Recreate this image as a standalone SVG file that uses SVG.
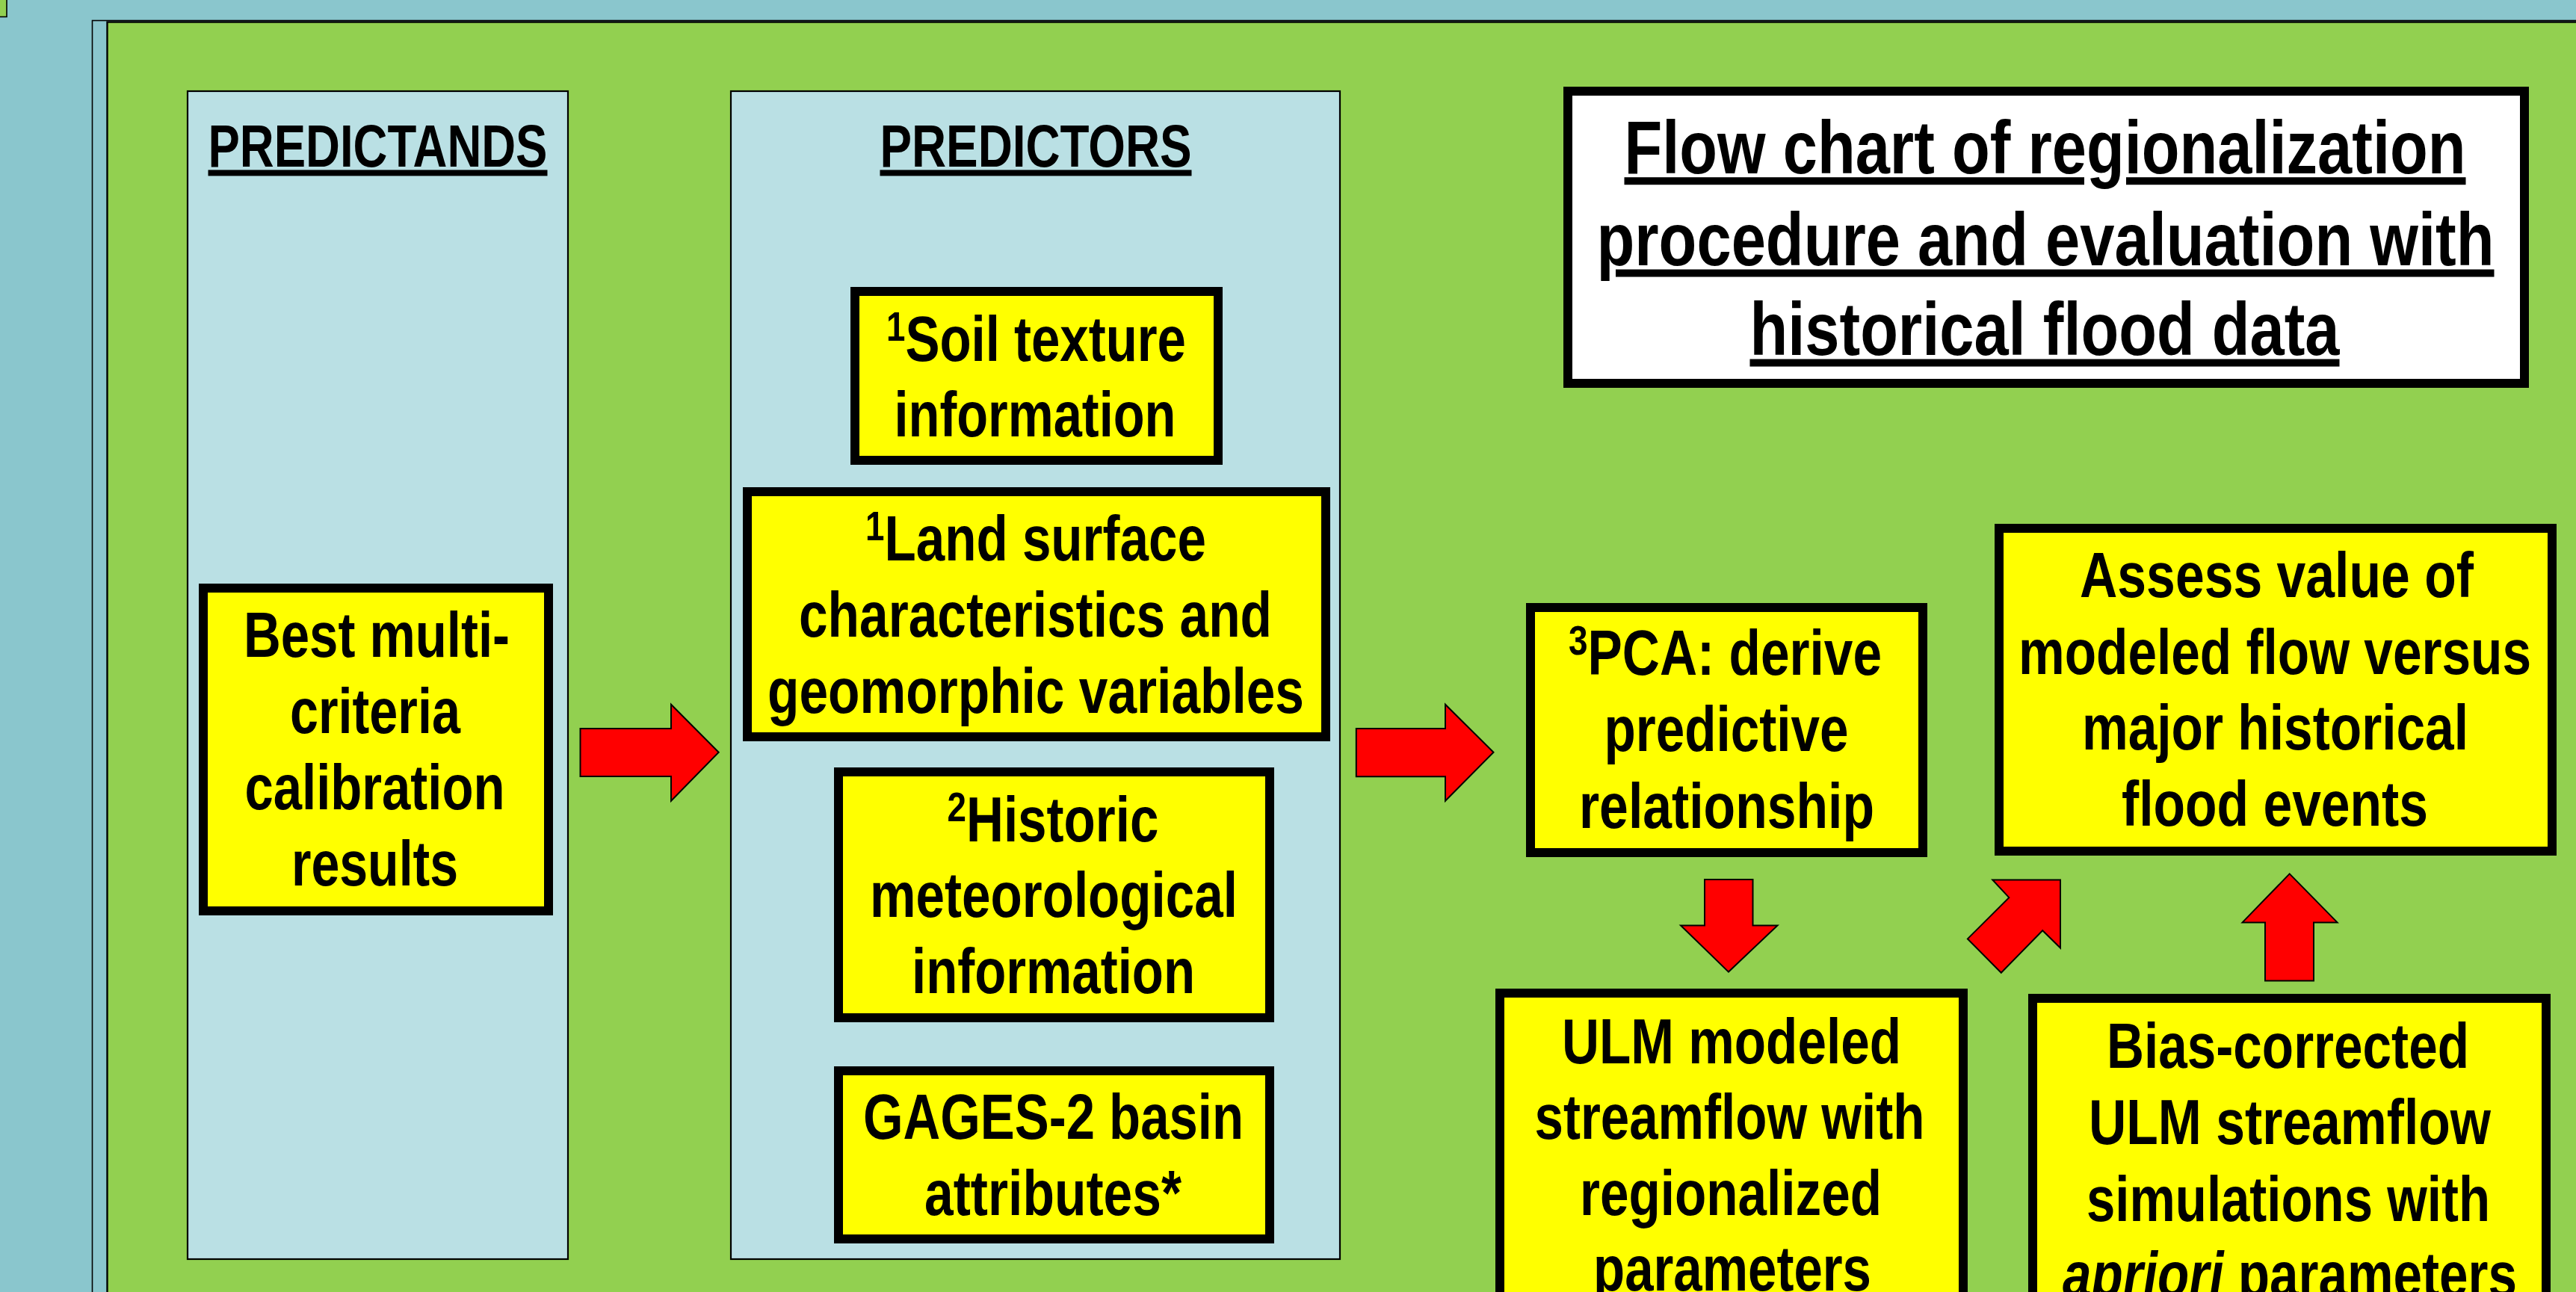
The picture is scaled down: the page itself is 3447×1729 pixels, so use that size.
<svg xmlns="http://www.w3.org/2000/svg" width="3447" height="1729" viewBox="0 0 3447 1729">
<style>
.bg{fill:#8AC6CD}
.frame{fill:#8AC6CD;stroke:#000;stroke-width:1.6}
.green{fill:#92D050;stroke:#000;stroke-width:2.4}
.panel{fill:#BAE0E4;stroke:#000;stroke-width:2.2}
.box{fill:#FFFF00;stroke:#000;stroke-width:12}
.tbox{fill:#FFFFFF;stroke:#000;stroke-width:12}
.arrow{fill:#FF0000;stroke:#000;stroke-width:2}
text{font-family:"Liberation Sans",Arial,sans-serif;font-weight:bold;fill:#000;text-anchor:middle}
.t{font-size:68px}
.h{font-size:64px;text-decoration:underline}
.ttl{font-size:80px;text-decoration:underline}
.sup{font-size:45px}
</style>
<rect class="bg" x="0" y="0" width="3447" height="1729"/>
<rect x="-2" y="-2" width="11" height="24.5" fill="#92D050" stroke="#000" stroke-width="1.6"/>
<rect class="frame" x="123.5" y="27.5" width="3400" height="1800"/>
<rect class="green" x="143.5" y="29.5" width="3400" height="1800"/>

<g id="predictands-panel">
<rect class="panel" x="251" y="122" width="509" height="1563"/>
<text class="h" x="505.5" transform="matrix(1,0,0,1.25,0,223)" textLength="454" lengthAdjust="spacingAndGlyphs">PREDICTANDS</text>
</g>
<g id="predictors-panel">
<rect class="panel" x="978" y="122" width="815" height="1563"/>
<text class="h" x="1386" transform="matrix(1,0,0,1.25,0,223)" textLength="417" lengthAdjust="spacingAndGlyphs">PREDICTORS</text>
</g>

<g id="title">
<rect class="tbox" x="2098" y="122" width="1280" height="391"/>
<text class="ttl" x="2736.5" transform="matrix(1,0,0,1.25,0,231.7)" textLength="1126" lengthAdjust="spacingAndGlyphs">Flow chart of regionalization</text>
<text class="ttl" x="2737" transform="matrix(1,0,0,1.25,0,355)" textLength="1201" lengthAdjust="spacingAndGlyphs">procedure and evaluation with</text>
<text class="ttl" x="2736" transform="matrix(1,0,0,1.25,0,475)" textLength="789" lengthAdjust="spacingAndGlyphs">historical flood data</text>
</g>

<g id="best-calibration">
<rect class="box" x="272" y="787" width="462" height="432"/>
<text class="t" x="504" transform="matrix(1,0,0,1.25,0,879)" textLength="356" lengthAdjust="spacingAndGlyphs">Best multi-</text>
<text class="t" x="502" transform="matrix(1,0,0,1.25,0,981)" textLength="228" lengthAdjust="spacingAndGlyphs">criteria</text>
<text class="t" x="501.5" transform="matrix(1,0,0,1.25,0,1083)" textLength="348" lengthAdjust="spacingAndGlyphs">calibration</text>
<text class="t" x="501.5" transform="matrix(1,0,0,1.25,0,1185)" textLength="223" lengthAdjust="spacingAndGlyphs">results</text>
</g>

<g id="soil-texture">
<rect class="box" x="1144" y="390" width="486" height="226"/>
<text class="t" x="1386.5" transform="matrix(1,0,0,1.25,0,483)" textLength="401" lengthAdjust="spacingAndGlyphs"><tspan class="sup" dy="-21.6">1</tspan><tspan dy="21.6">Soil texture</tspan></text>
<text class="t" x="1385" transform="matrix(1,0,0,1.25,0,584)" textLength="377" lengthAdjust="spacingAndGlyphs">information</text>
</g>

<g id="land-surface">
<rect class="box" x="1000" y="658" width="774" height="328"/>
<text class="t" x="1386" transform="matrix(1,0,0,1.25,0,750)" textLength="456" lengthAdjust="spacingAndGlyphs"><tspan class="sup" dy="-21.6">1</tspan><tspan dy="21.6">Land surface</tspan></text>
<text class="t" x="1385.5" transform="matrix(1,0,0,1.25,0,852)" textLength="633" lengthAdjust="spacingAndGlyphs">characteristics and</text>
<text class="t" x="1386" transform="matrix(1,0,0,1.25,0,954)" textLength="718" lengthAdjust="spacingAndGlyphs">geomorphic variables</text>
</g>

<g id="historic-met">
<rect class="box" x="1122" y="1033" width="577" height="329"/>
<text class="t" x="1409" transform="matrix(1,0,0,1.25,0,1126)" textLength="283" lengthAdjust="spacingAndGlyphs"><tspan class="sup" dy="-21.6">2</tspan><tspan dy="21.6">Historic</tspan></text>
<text class="t" x="1410" transform="matrix(1,0,0,1.25,0,1227)" textLength="492" lengthAdjust="spacingAndGlyphs">meteorological</text>
<text class="t" x="1409.5" transform="matrix(1,0,0,1.25,0,1329)" textLength="379" lengthAdjust="spacingAndGlyphs">information</text>
</g>

<g id="gages">
<rect class="box" x="1122" y="1433" width="577" height="225"/>
<text class="t" x="1409.5" transform="matrix(1,0,0,1.25,0,1524)" textLength="509" lengthAdjust="spacingAndGlyphs">GAGES-2 basin</text>
<text class="t" x="1409" transform="matrix(1,0,0,1.25,0,1626)" textLength="344" lengthAdjust="spacingAndGlyphs">attributes*</text>
</g>

<g id="pca">
<rect class="box" x="2048" y="813" width="525" height="328"/>
<text class="t" x="2308.5" transform="matrix(1,0,0,1.25,0,903)" textLength="419" lengthAdjust="spacingAndGlyphs"><tspan class="sup" dy="-21.6">3</tspan><tspan dy="21.6">PCA: derive</tspan></text>
<text class="t" x="2310" transform="matrix(1,0,0,1.25,0,1005)" textLength="327" lengthAdjust="spacingAndGlyphs">predictive</text>
<text class="t" x="2310.5" transform="matrix(1,0,0,1.25,0,1108)" textLength="395" lengthAdjust="spacingAndGlyphs">relationship</text>
</g>

<g id="assess">
<rect class="box" x="2675" y="707" width="740" height="432"/>
<text class="t" x="3046.5" transform="matrix(1,0,0,1.25,0,799)" textLength="527" lengthAdjust="spacingAndGlyphs">Assess value of</text>
<text class="t" x="3044" transform="matrix(1,0,0,1.25,0,902)" textLength="686" lengthAdjust="spacingAndGlyphs">modeled flow versus</text>
<text class="t" x="3044.5" transform="matrix(1,0,0,1.25,0,1003)" textLength="517" lengthAdjust="spacingAndGlyphs">major historical</text>
<text class="t" x="3044" transform="matrix(1,0,0,1.25,0,1105)" textLength="410" lengthAdjust="spacingAndGlyphs">flood events</text>
</g>

<g id="ulm-regionalized">
<rect class="box" x="2007" y="1329" width="620" height="500"/>
<text class="t" x="2317" transform="matrix(1,0,0,1.25,0,1423)" textLength="454" lengthAdjust="spacingAndGlyphs">ULM modeled</text>
<text class="t" x="2314.5" transform="matrix(1,0,0,1.25,0,1524)" textLength="522" lengthAdjust="spacingAndGlyphs">streamflow with</text>
<text class="t" x="2316" transform="matrix(1,0,0,1.25,0,1625.5)" textLength="404" lengthAdjust="spacingAndGlyphs">regionalized</text>
<text class="t" x="2318" transform="matrix(1,0,0,1.25,0,1727)" textLength="372" lengthAdjust="spacingAndGlyphs">parameters</text>
</g>

<g id="bias-corrected">
<rect class="box" x="2720" y="1336" width="687" height="500"/>
<text class="t" x="3061.5" transform="matrix(1,0,0,1.25,0,1429)" textLength="485" lengthAdjust="spacingAndGlyphs">Bias-corrected</text>
<text class="t" x="3064" transform="matrix(1,0,0,1.25,0,1531)" textLength="538" lengthAdjust="spacingAndGlyphs">ULM streamflow</text>
<text class="t" x="3062" transform="matrix(1,0,0,1.25,0,1633.5)" textLength="540" lengthAdjust="spacingAndGlyphs">simulations with</text>
<text class="t" x="3064" transform="matrix(1,0,0,1.25,0,1735)" textLength="608" lengthAdjust="spacingAndGlyphs"><tspan font-style="italic">apriori</tspan> parameters</text>
</g>

<g id="connectors">
<polygon class="arrow" points="776.5,975 898,975 898,942.7 961.7,1006.7 898,1071.7 898,1039 776.5,1039"/>
<polygon class="arrow" points="1814.8,975 1934,975 1934,942.7 1998.5,1006.7 1934,1071.7 1934,1039.3 1814.8,1039.3"/>
<polygon class="arrow" points="2281,1177 2345.5,1177 2345.5,1238.4 2378.5,1238.4 2313,1300.6 2249,1238.4 2281,1238.4"/>
<polygon class="arrow" points="2666.3,1177.4 2757,1177.4 2757,1268.5 2733.2,1245.2 2677.8,1301.8 2632.9,1256.4 2688.3,1201.1"/>
<polygon class="arrow" points="3063.7,1169.4 3127.6,1234.4 3096,1234.4 3096,1312.6 3031,1312.6 3031,1234.4 3000.6,1234.4"/>
</g>
</svg>
